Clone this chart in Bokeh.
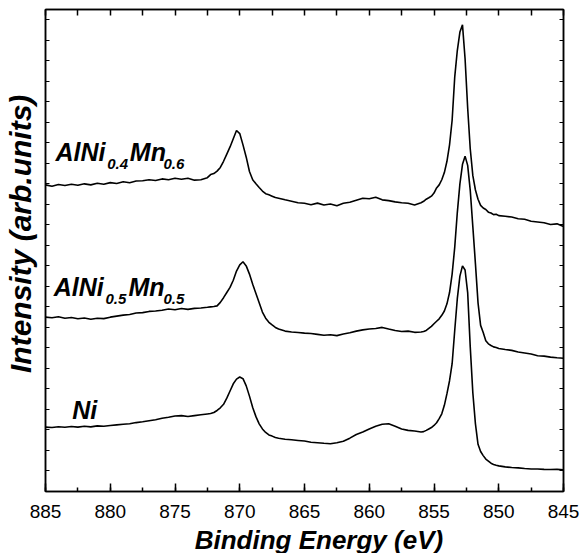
from bokeh.plotting import figure
from bokeh.models import Range1d, LinearAxis, SingleIntervalTicker, FixedTicker, Label, CustomJSTickFormatter
from bokeh.embed import file_html
from bokeh.resources import INLINE

# Binding energy grid (eV)
energy = [885.0, 884.5, 884.0, 883.5, 883.0, 882.5, 882.0, 881.5, 881.0, 880.5, 880.0, 879.5, 879.0,
          878.5, 878.0, 877.5, 877.0, 876.5, 876.0, 875.5, 875.0, 874.5, 874.0, 873.5, 873.0, 872.5,
          872.25, 872.0, 871.75, 871.5, 871.25, 871.0, 870.75, 870.5, 870.25, 870.0, 869.75, 869.5,
          869.25, 869.0, 868.75, 868.5, 868.25, 868.0, 867.75, 867.5, 867.25, 867.0,
          866.5, 866.0, 865.5, 865.0, 864.5, 864.0, 863.5, 863.0, 862.5, 862.0, 861.5, 861.0, 860.5,
          860.0, 859.5, 859.0, 858.5, 858.0, 857.5, 857.0, 856.5, 856.0,
          855.8, 855.6, 855.4, 855.2, 855.0, 854.8, 854.6, 854.4, 854.2, 854.0, 853.8, 853.6, 853.4,
          853.2, 853.0, 852.8, 852.6, 852.4, 852.2, 852.0, 851.8, 851.6, 851.4, 851.2, 851.0, 850.8,
          850.6, 850.4, 850.2, 850.0,
          849.5, 849.0, 848.5, 848.0, 847.5, 847.0, 846.5, 846.0, 845.5, 845.0]

# AlNi0.4Mn0.6 (top, offset)
alni04mn06 = [14.95, 14.88, 14.97, 14.92, 14.98, 14.93, 15.0, 14.95, 15.03, 14.98, 15.06, 15.02, 15.1,
              15.05, 15.14, 15.15, 15.2, 15.16, 15.24, 15.2, 15.27, 15.22, 15.27, 15.18, 15.2, 15.3,
              15.45, 15.5, 15.62, 15.8, 16.1, 16.45, 16.8, 17.2, 17.6, 17.45, 16.9, 16.3, 15.6, 15.2,
              15.0, 14.82, 14.65, 14.52, 14.47, 14.4, 14.33, 14.3,
              14.22, 14.15, 14.08, 14.05, 13.98, 14.06, 13.97, 14.02, 13.93, 14.05, 14.1, 14.2, 14.3,
              14.27, 14.35, 14.22, 14.18, 14.12, 14.08, 14.05, 13.97, 14.08,
              14.15, 14.25, 14.32, 14.4, 14.55, 14.8, 14.95, 15.2, 15.55, 16.1, 16.9, 18.1, 20.2, 21.5,
              22.4, 22.75, 21.1, 18.7, 16.7, 15.4, 14.7, 14.25, 13.95, 13.82, 13.75, 13.62, 13.58,
              13.5, 13.52, 13.45,
              13.42, 13.38, 13.3, 13.27, 13.18, 13.14, 13.1, 13.02, 13.05, 12.92]

# AlNi0.5Mn0.5 (middle, offset)
alni05mn05 = [8.5, 8.47, 8.52, 8.45, 8.48, 8.42, 8.46, 8.4, 8.45, 8.43, 8.5, 8.55, 8.6, 8.63, 8.7, 8.72,
              8.78, 8.8, 8.84, 8.9, 8.86, 8.92, 8.88, 8.93, 8.95, 8.98,
              9.0, 9.02, 9.05, 9.22, 9.45, 9.7, 9.95, 10.3, 10.75, 11.05, 11.2, 11.0, 10.6, 10.1, 9.65,
              9.2, 8.75, 8.45, 8.25, 8.12, 8.0, 7.92,
              7.82, 7.78, 7.75, 7.72, 7.7, 7.66, 7.62, 7.64, 7.6, 7.68, 7.74, 7.82, 7.88, 7.92, 7.95,
              8.0, 7.92, 7.85, 7.8, 7.82, 7.76, 7.78,
              7.8, 7.85, 7.95, 8.05, 8.18, 8.3, 8.42, 8.59, 8.8, 9.15, 9.7, 10.6, 11.9, 13.6, 15.0,
              15.95, 16.35, 15.9, 14.68, 12.9, 11.1, 9.2, 8.1, 7.75, 7.35, 7.2, 7.12, 7.05, 7.02, 6.97,
              6.92, 6.88, 6.8, 6.75, 6.7, 6.62, 6.6, 6.55, 6.52, 6.5]

# Ni (bottom)
ni = [3.14, 3.12, 3.16, 3.13, 3.17, 3.14, 3.18, 3.15, 3.2, 3.18, 3.22, 3.25, 3.28, 3.3, 3.36, 3.4, 3.45,
      3.5, 3.57, 3.62, 3.68, 3.7, 3.66, 3.7, 3.74, 3.78,
      3.8, 3.85, 3.95, 4.08, 4.25, 4.55, 4.9, 5.25, 5.48, 5.58, 5.5, 5.15, 4.65, 4.1, 3.65, 3.3, 3.05,
      2.88, 2.76, 2.7, 2.63, 2.6,
      2.55, 2.52, 2.49, 2.46, 2.4, 2.38, 2.35, 2.33, 2.38, 2.45, 2.6, 2.78, 2.9, 3.05, 3.18, 3.28, 3.3,
      3.18, 3.05, 2.98, 2.95, 2.9,
      2.92, 2.98, 3.05, 3.12, 3.22, 3.35, 3.55, 3.79, 4.2, 4.77, 5.4, 6.23, 7.85, 9.4, 10.5, 11.0, 10.8,
      9.7, 7.04, 4.8, 3.3, 2.3, 1.95, 1.75, 1.58, 1.48, 1.38, 1.32, 1.28, 1.25,
      1.2, 1.17, 1.15, 1.12, 1.1, 1.1, 1.08, 1.07, 1.08, 1.06]

series = [alni04mn06, alni05mn05, ni]

x_title = "Binding Energy (eV)"
y_title = "Intensity (arb.units)"

FONT = "Liberation Sans"
NB = "\u00a0"

p = figure(frame_width=518, frame_height=482, output_backend="svg", toolbar_location=None,
           x_range=Range1d(885, 845), y_range=Range1d(0, 23.5),
           min_border_left=45, min_border_right=18, min_border_top=9, min_border_bottom=40,
           x_axis_location=None, y_axis_location=None)
p.grid.visible = False
p.outline_line_color = "black"
p.outline_line_width = 1.5
p.background_fill_color = "white"
p.border_fill_color = "white"

for s in series:
    p.line(energy, s, line_color="black", line_width=1.6)

blank = CustomJSTickFormatter(code="return ''")

# bottom axis
xb = LinearAxis(ticker=SingleIntervalTicker(interval=5, num_minor_ticks=2))
xb.major_tick_in = 8
xb.major_tick_out = 0
xb.minor_tick_in = 4
xb.minor_tick_out = 0
xb.axis_line_width = 1.5
xb.major_tick_line_width = 1.5
xb.minor_tick_line_width = 1.5
xb.major_label_text_font = FONT
xb.major_label_text_font_size = "19px"
xb.major_label_text_color = "black"
xb.major_label_standoff = 13
xb.axis_label = NB * 4 + x_title
xb.axis_label_text_font = FONT
xb.axis_label_text_font_style = "bold italic"
xb.axis_label_text_font_size = "26px"
xb.axis_label_text_color = "black"
xb.axis_label_standoff = 4
p.add_layout(xb, "below")

# top axis
xt = LinearAxis(ticker=SingleIntervalTicker(interval=2.5, num_minor_ticks=0), formatter=blank)
xt.major_tick_in = 6
xt.major_tick_out = 0
xt.minor_tick_in = 0
xt.minor_tick_out = 0
xt.axis_line_width = 1.5
xt.major_tick_line_width = 1.5
xt.major_label_standoff = 0
p.add_layout(xt, "above")

for side in ("left", "right"):
    ya = LinearAxis(ticker=FixedTicker(ticks=list(range(0, 24))), formatter=blank)
    ya.major_tick_in = 4
    ya.major_tick_out = 0
    ya.minor_tick_in = 0
    ya.minor_tick_out = 0
    ya.axis_line_width = 1.5
    ya.major_tick_line_width = 1
    ya.major_label_standoff = 0
    if side == "left":
        ya.axis_label = NB * 4 + y_title
        ya.axis_label_text_font = FONT
        ya.axis_label_text_font_style = "bold italic"
        ya.axis_label_text_font_size = "30px"
        ya.axis_label_text_color = "black"
        ya.axis_label_standoff = 9
    p.add_layout(ya, side)

# curve labels
def lab(x, y, t, size):
    p.add_layout(Label(x=x, y=y, text=t, text_font=FONT, text_font_style="bold italic",
                       text_font_size=size, text_align="left", text_baseline="alphabetic",
                       text_color="black"))

lab(884.23, 16.55, "AlNi", "25px")
lab(880.24, 15.99, "0.4", "15px")
lab(878.49, 16.55, "Mn", "25px")
lab(875.89, 15.99, "0.6", "15px")

lab(884.36, 9.97, "AlNi", "25px")
lab(880.37, 9.40, "0.5", "15px")
lab(878.59, 9.97, "Mn", "25px")
lab(875.89, 9.40, "0.5", "15px")

lab(882.94, 3.95, "Ni", "25px")

open("out.html", "w").write(file_html(p, INLINE))
